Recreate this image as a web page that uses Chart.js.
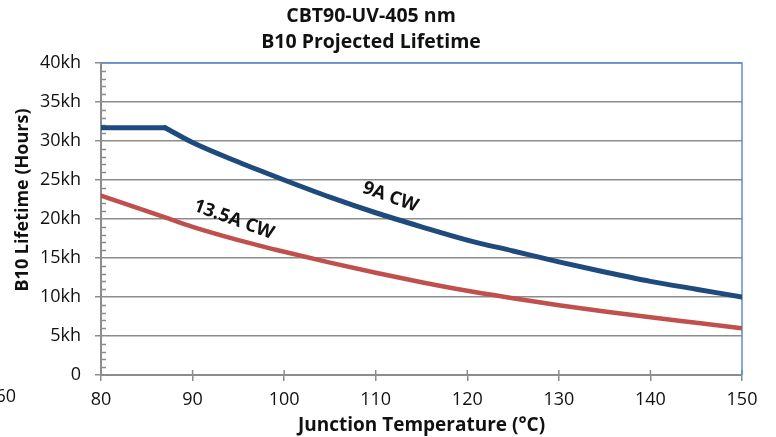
<!DOCTYPE html>
<html>
<head>
<meta charset="utf-8">
<script src="https://cdn.jsdelivr.net/npm/chart.js@4.4.1/dist/chart.umd.min.js"></script>
<style>
    html, body { margin: 0; padding: 0; background: #fff; }
    #wrap { width: 776px; height: 437px; }
</style>
</head>
<body>
<div id="wrap"><canvas id="lifetime-chart" width="776" height="437"></canvas></div>
<script>
const temperatures = [80, 85, 87, 90, 95, 100, 105, 110, 115, 120, 125, 130, 135, 140, 145, 150];
// B10 lifetime in hours
const lifetime9A = [31700, 31700, 31700, 29800, 27300, 25000, 22800, 20800, 19000, 17300, 15900, 14500, 13200, 12000, 11000, 10000];
const lifetime13A = [23000, 21000, 20200, 19000, 17300, 15800, 14400, 13100, 11900, 10800, 9850, 8950, 8150, 7400, 6700, 6000];
// the 9A curve is capped until this temperature, then rolls off
const knee9A = 87;

const xTickValues = [80, 90, 100, 110, 120, 130, 140, 150];
const yTickValues = [0, 5000, 10000, 15000, 20000, 25000, 30000, 35000, 40000];
const yTickLabels = ['0', '5kh', '10kh', '15kh', '20kh', '25kh', '30kh', '35kh', '40kh'];

// curve labels, anchored in data units (temperature, hours)
const curveLabels = ['9A CW', '13.5A CW'];
const curveLabelAt = [[111.6, 22800], [94.5, 19900]];

const FONT = "'Open Sans', sans-serif";
const GRID = '#8c8c8c';
const FRAME = '#5b8fd2';
const BLUE = '#1f4a7d';
const RED = '#c0504d';

function toPoints(values) {
    return values.map((v, i) => ({ x: temperatures[i], y: v }));
}

const points9A = toPoints(lifetime9A);
// split at the knee so the smoothing doesn't round the corner off
const flat9A = points9A.filter(p => p.x <= knee9A);
const curve9A = points9A.filter(p => p.x >= knee9A);

// extra drawing Excel did that Chart.js doesn't: minor ticks, inner x ticks, frame, labels
const decorPlugin = {
    id: 'decor',
    beforeDatasetsDraw(chart) {
        const { ctx, chartArea: area, scales: { x, y } } = chart;
        ctx.save();
        ctx.strokeStyle = GRID;
        ctx.lineWidth = 1.5;
        ctx.beginPath();
        for (let v = 1000; v < 40000; v += 1000) {
            if (v % 5000 === 0) continue;
            const py = Math.round(y.getPixelForValue(v)) + 0.5;
            ctx.moveTo(area.left, py);
            ctx.lineTo(area.left + 5, py);
        }
        xTickValues.forEach(t => {
            const px = x.getPixelForValue(t);
            ctx.moveTo(px, area.bottom);
            ctx.lineTo(px, area.bottom - 5);
        });
        ctx.stroke();

        ctx.strokeStyle = FRAME;
        ctx.lineWidth = 1.5;
        ctx.beginPath();
        ctx.moveTo(area.left, area.top);
        ctx.lineTo(area.right, area.top);
        ctx.lineTo(area.right, area.bottom);
        ctx.stroke();
        ctx.restore();
    },
    afterDraw(chart) {
        const { ctx, scales: { x, y } } = chart;
        ctx.save();
        ctx.fillStyle = '#111';
        ctx.textAlign = 'center';
        ctx.textBaseline = 'middle';

        ctx.font = 'bold 18.5px ' + FONT;
        curveLabels.forEach((txt, i) => {
            const [t, h] = curveLabelAt[i];
            ctx.save();
            ctx.translate(x.getPixelForValue(t), y.getPixelForValue(h));
            ctx.rotate(20 * Math.PI / 180);
            ctx.fillText(txt, 0, 0);
            ctx.restore();
        });

        // y axis title, Excel centres it a bit above the plot middle
        ctx.font = 'bold 18px ' + FONT;
        ctx.save();
        ctx.translate(23, 200);
        ctx.rotate(-Math.PI / 2);
        ctx.fillText('B10 Lifetime (Hours)', 0, 0);
        ctx.restore();

        // cut off tick label of the neighbouring chart
        ctx.font = '18px ' + FONT;
        ctx.textAlign = 'right';
        ctx.fillText('60', 16, 397);
        ctx.restore();
    }
};

const lineStyle = {
    pointRadius: 0,
    fill: false,
    clip: 0,
    borderCapStyle: 'round',
    borderJoinStyle: 'round',
    cubicInterpolationMode: 'monotone'
};

new Chart('lifetime-chart', {
    type: 'line',
    data: {
        datasets: [{
            ...lineStyle,
            label: '9A CW',
            data: flat9A,
            borderColor: BLUE,
            borderWidth: 5
        }, {
            ...lineStyle,
            label: '9A CW',
            data: curve9A,
            borderColor: BLUE,
            borderWidth: 5
        }, {
            ...lineStyle,
            label: '13.5A CW',
            data: toPoints(lifetime13A),
            borderColor: RED,
            borderWidth: 4.5
        }]
    },
    options: {
        responsive: false,
        animation: false,
        devicePixelRatio: 1,
        layout: { padding: { left: 0, right: 34, top: 0, bottom: 0 } },
        plugins: {
            legend: { display: false },
            tooltip: { enabled: false },
            title: {
                display: true,
                text: ['CBT90-UV-405 nm', 'B10 Projected Lifetime'],
                color: '#111',
                font: { family: FONT, size: 19.5, weight: 'bold', lineHeight: 1.333 },
                padding: { top: 3, bottom: 8 }
            }
        },
        scales: {
            x: {
                type: 'linear',
                min: 80,
                max: 150,
                afterFit(scale) { scale.height = 62; },
                afterBuildTicks(scale) { scale.ticks = xTickValues.map(v => ({ value: v })); },
                ticks: {
                    color: '#111',
                    padding: 8,
                    font: { family: FONT, size: 18 }
                },
                grid: { drawOnChartArea: false, color: GRID, lineWidth: 1.5, tickLength: 6 },
                border: { color: GRID, width: 2 },
                title: {
                    display: true,
                    text: 'Junction Temperature (°C)',
                    color: '#111',
                    font: { family: FONT, size: 19, weight: 'bold', lineHeight: 1.2 },
                    padding: { top: 0, bottom: 0 }
                }
            },
            y: {
                min: 0,
                max: 40000,
                afterFit(scale) { scale.width = 101; },
                afterBuildTicks(scale) { scale.ticks = yTickValues.map(v => ({ value: v })); },
                ticks: {
                    color: '#111',
                    padding: 14,
                    font: { family: FONT, size: 18 },
                    callback: v => yTickLabels[yTickValues.indexOf(v)]
                },
                grid: { color: GRID, lineWidth: 1.5, tickLength: 6 },
                border: { color: GRID, width: 2 }
            }
        }
    },
    plugins: [decorPlugin]
});
</script>
</body>
</html>
